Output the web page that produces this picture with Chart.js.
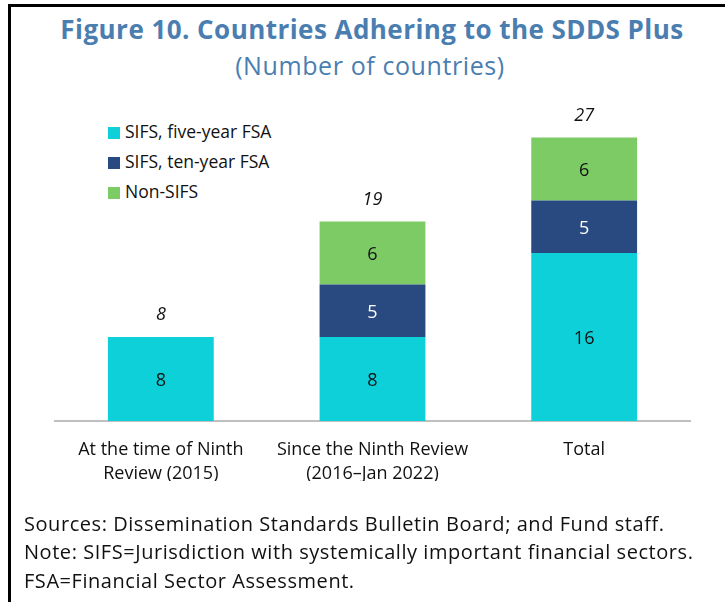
<!DOCTYPE html>
<html>
<head>
<meta charset="utf-8">
<script src="https://cdn.jsdelivr.net/npm/chart.js@4/dist/chart.umd.min.js"></script>
<style>
  html, body { margin: 0; padding: 0; background: #fff; }
  #wrap { position: relative; width: 725px; height: 602px; overflow: hidden; font-family: "Open Sans", sans-serif; }
  #frame { position: absolute; left: 8px; top: 4px; width: 725px; height: 700px; border-top: 3px solid #000; border-left: 3px solid #000; }
  .t { position: absolute; white-space: nowrap; line-height: 1; }
  #title { left: 0; width: 744px; text-align: center; top: 16px; font-size: 26px; font-weight: 700; letter-spacing: 0.45px; color: #4a7eb0; }
  #subtitle { left: 0; width: 740px; text-align: center; top: 53px; font-size: 25px; letter-spacing: 0.6px; color: #4a7eb0; }
  .leg { left: 108px; font-size: 17.5px; color: #111; }
  .leg i { display: inline-block; width: 12px; height: 12px; margin-right: 5px; vertical-align: -1px; }
  .note { left: 24px; font-size: 20px; letter-spacing: 0.55px; color: #111; }
  canvas { position: absolute; left: 0; top: 0; }
</style>
</head>
<body>
<div id="wrap">
  <div id="frame"></div>
  <div class="t" id="title">Figure 10. Countries Adhering to the SDDS Plus</div>
  <div class="t" id="subtitle">(Number of countries)</div>
  <div id="legend"></div>
  <canvas id="myChart" width="725" height="602"></canvas>
  <div class="t note" style="top:514px">Sources: Dissemination Standards Bulletin Board; and Fund staff.</div>
  <div class="t note" style="top:542px">Note: SIFS=Jurisdiction with systemically important financial sectors.</div>
  <div class="t note" style="top:571px">FSA=Financial Sector Assessment.</div>
</div>
<script>
var categories = [
    ['At the time of Ninth', 'Review (2015)'],
    ['Since the Ninth Review', '(2016\u2013Jan 2022)'],
    'Total'
];
var seriesNames = ['SIFS, five-year FSA', 'SIFS, ten-year FSA', 'Non-SIFS'];
var fiveYear = [8, 8, 16];
var tenYear = [null, 5, 5];
var nonSifs = [null, 6, 6];
var seriesColors = ['#0dd0d9', '#294a80', '#7dcb64'];

// legend in html
var legend = document.getElementById('legend');
var legendTops = [123, 153, 183];
seriesNames.forEach(function (name, i) {
    var d = document.createElement('div');
    d.className = 't leg';
    d.style.top = legendTops[i] + 'px';
    d.innerHTML = '<i style="background:' + seriesColors[i] + '"></i>' + name;
    legend.appendChild(d);
});

var valueLabels = {
    id: 'valueLabels',
    afterDatasetsDraw: function (chart) {
        var c = chart.ctx;
        c.save();
        c.textAlign = 'center';
        c.textBaseline = 'middle';
        c.font = '18px "Open Sans"';
        chart.data.datasets.forEach(function (ds, i) {
            chart.getDatasetMeta(i).data.forEach(function (bar, j) {
                var v = ds.data[j];
                if (v == null) return;
                c.fillStyle = i === 1 ? '#ffffff' : '#111111';
                c.fillText(v, bar.x, (bar.y + bar.base) / 2 + 2);
            });
        });
        // totals on top
        var y = chart.scales.y;
        c.font = 'italic 18px "Open Sans"';
        c.fillStyle = '#111111';
        categories.forEach(function (cat, j) {
            var total = 0;
            chart.data.datasets.forEach(function (ds) { total += ds.data[j] || 0; });
            var x = chart.getDatasetMeta(0).data[j].x;
            c.fillText(total, x, y.getPixelForValue(total) - 22);
        });
        c.restore();
    }
};

var ctx = document.getElementById('myChart').getContext('2d');
var myChart = new Chart(ctx, {
    type: 'bar',
    data: {
        labels: categories,
        datasets: [{
            label: seriesNames[0],
            data: fiveYear,
            backgroundColor: seriesColors[0]
        }, {
            label: seriesNames[1],
            data: tenYear,
            backgroundColor: seriesColors[1]
        }, {
            label: seriesNames[2],
            data: nonSifs,
            backgroundColor: seriesColors[2]
        }]
    },
    options: {
        responsive: false,
        animation: false,
        barPercentage: 0.5,
        categoryPercentage: 1,
        layout: {
            padding: { left: 55, right: 35, top: 106, bottom: 121 }
        },
        plugins: {
            legend: { display: false },
            tooltip: { enabled: false }
        },
        scales: {
            x: {
                stacked: true,
                grid: { display: false, drawTicks: false },
                border: { color: '#bfbfbf', width: 2 },
                ticks: {
                    padding: 17,
                    color: '#111',
                    font: { family: 'Open Sans', size: 18, lineHeight: 1.34 }
                },
                afterFit: function (s) { s.height = 60; }
            },
            y: {
                stacked: true,
                display: false,
                min: 0,
                max: 30
            }
        }
    },
    plugins: [valueLabels]
});
</script>
</body>
</html>
